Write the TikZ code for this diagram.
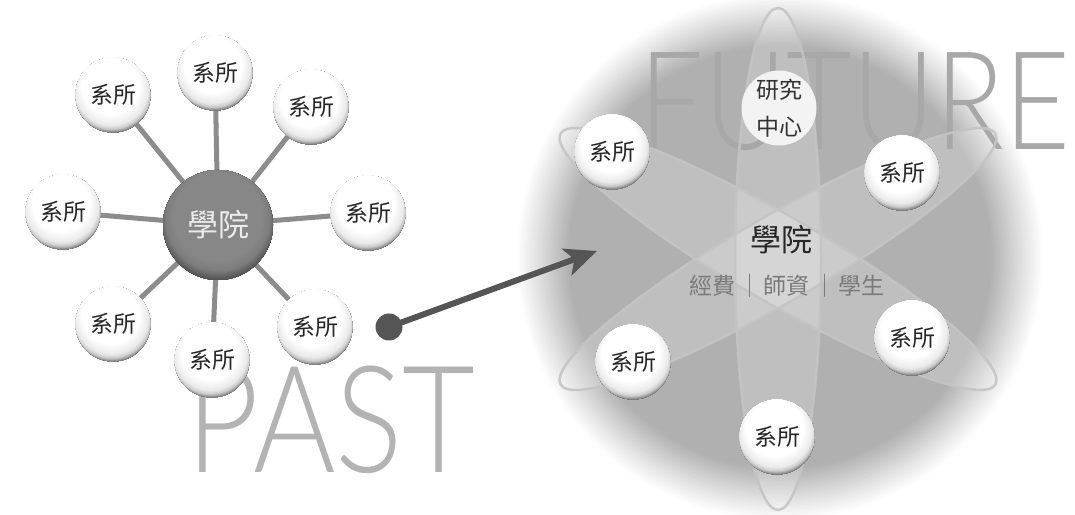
\documentclass[tikz,border=0pt]{standalone}
\usepackage{fontspec}
\setmainfont{Noto Sans CJK TC}
\IfFontExistsTF{Lato Light}{\newfontfamily\thinfont{Lato Light}}{\newfontfamily\thinfont{Lato}}
\usetikzlibrary{arrows.meta}
\pgfdeclarelayer{bg}
\pgfdeclarelayer{mid}
\pgfsetlayers{bg,mid,main}
\definecolor{spokec}{HTML}{8C8C8C}
\definecolor{arrowc}{HTML}{555555}
\definecolor{orbitc}{HTML}{C4C4C4}
\definecolor{pastc}{HTML}{B3B3B3}
\definecolor{futurec}{HTML}{A8A8A8}
\definecolor{subc}{HTML}{7A7A7A}
\definecolor{centerfill}{HTML}{F3F3F3}
% white sphere painting, centre (#1,#2), radius 37.5
\newcommand{\paintwhiteball}[2]{%
  \begin{scope}
    \clip (#1,#2) circle (37.5);
    \foreach \k in {100,99,...,40}{
      \pgfmathsetmacro{\ss}{\k/100}
      \pgfmathsetmacro{\ox}{#1-4*(1-\ss)}
      \pgfmathsetmacro{\oy}{#2+18*(1-\ss)}
      \pgfmathsetmacro{\rr}{56*\ss}
      \pgfmathsetmacro{\gg}{max(0,min(100,\ss<0.52 ? 0 : (\ss<0.66 ? (\ss-0.52)/0.14*8 : (\ss<0.71 ? 8+(\ss-0.66)/0.05*12 : (\ss<0.76 ? 20+(\ss-0.71)/0.05*32 : 52+(\ss-0.76)/0.24*5)))))}
      \fill[black!\gg!white] (\ox,\oy) circle (\rr);
    }
  \end{scope}}
% grey sphere painting, centre (#1,#2), radius 55
\newcommand{\paintgreyball}[2]{%
  \begin{scope}
    \clip (#1,#2) circle (55);
    \foreach \k in {100,99,...,40}{
      \pgfmathsetmacro{\ss}{\k/100}
      \pgfmathsetmacro{\oy}{#2+20*(1-\ss)}
      \pgfmathsetmacro{\rr}{75*\ss}
      \pgfmathsetmacro{\gg}{max(0,min(100,\ss<0.6 ? 47 : (\ss<0.7 ? 47+(\ss-0.6)/0.1*4 : (\ss<0.79 ? 51+(\ss-0.7)/0.09*16 : 67+(\ss-0.79)/0.21*4))))}
      \fill[black!\gg!white] (#1,\oy) circle (\rr);
    }
  \end{scope}}
\newcommand{\wball}[4]{\paintwhiteball{#2}{#3}\node[ball] (#1) at (#2,#3) {#4};}
\tikzset{
  ball/.style={circle, minimum size=75pt, inner sep=0pt,
    font=\fontsize{23}{23}\selectfont, text=black!85},
  hub/.style={circle, minimum size=110pt, inner sep=0pt,
    font=\fontsize{31}{31}\selectfont, text=white!92!black},
  centre/.style={circle, minimum size=75pt, inner sep=0pt, fill=centerfill,
    font=\fontsize{23}{37}\selectfont, text=black!80, align=center},
  spoke/.style={draw=spokec, line width=5pt},
  orbitfill/.style={fill=white, fill opacity=0.2},
  orbitline/.style={draw=orbitc, line width=2.5pt, draw opacity=0.9},
  bigword/.style={inner sep=0pt, anchor=base},
  arrowline/.style={draw=arrowc, line width=6pt, -{Stealth[length=32pt,width=28pt,inset=8pt]}},
  dotstyle/.style={circle, fill=arrowc, minimum size=27pt, inner sep=0pt}
}
\begin{document}
\begin{tikzpicture}[x=1pt,y=1pt]
\useasboundingbox (0,0) rectangle (1075,514);
\clip (0,0) rectangle (1075,514);
\begin{pgfonlayer}{bg}
  \fill[white] (0,0) rectangle (1075,514);
  \coordinate (G) at (780,257);
  \coordinate (O) at (778,255);
  \foreach \k in {106,105,...,1}{
    \pgfmathsetmacro{\tt}{\k/106}
    \pgfmathsetmacro{\gg}{max(0,min(100,\tt<0.8 ? 31 : (\tt<0.93 ? 31-(\tt-0.8)/0.13*21 : 10-(\tt-0.93)/0.07*10)))}
    \fill[black!\gg!white] (G) circle ({2.5*\k});
  }
  \foreach \a in {0,60,-60}
    \path[orbitfill, rotate around={\a:(O)}] (O) ellipse [x radius=43, y radius=251];
  \node[bigword, text=futurec, font=\thinfont\fontsize{137}{137}\selectfont, xscale=0.83] (future) at (855,364) {FUTURE};
  \foreach \a in {0,60,-60}
    \draw[orbitline, rotate around={\a:(O)}] (O) ellipse [x radius=43, y radius=251];
  \node[bigword, text=pastc, font=\thinfont\fontsize{149}{149}\selectfont, xscale=0.845] (past) at (331,42) {PAST};
\end{pgfonlayer}

% left: past structure
\paintgreyball{218}{289}
\node[hub] (C) at (218,289) {學院};
\wball{s1}{215}{441}{系所}
\wball{s2}{113}{419}{系所}
\wball{s3}{311}{407}{系所}
\wball{s4}{63}{302}{系所}
\wball{s5}{368}{301}{系所}
\wball{s6}{113}{190}{系所}
\wball{s7}{212}{154}{系所}
\wball{s8}{315}{187}{系所}
\begin{pgfonlayer}{mid}
  \foreach \n in {s1,s2,s3,s4,s5,s6,s7,s8} \draw[spoke] (C.center) -- (\n.center);
\end{pgfonlayer}

% arrow
\node[dotstyle] (dot) at (389,187) {};
\coordinate (tip) at (597,263);
\draw[arrowline] (dot.center) -- (tip);

% right: future structure
\node[centre] (rc) at (779,406) {研究\\中心};
\wball{r1}{612}{362}{系所}
\wball{r2}{902}{341}{系所}
\wball{r3}{912}{176}{系所}
\wball{r4}{633}{152}{系所}
\wball{r5}{777}{77}{系所}
\node[font=\fontsize{31}{31}\selectfont, text=black!85, inner sep=0pt] (college) at (781,274) {學院};
\node[font=\fontsize{23}{23}\selectfont, text=subc, inner sep=0pt] (res) at (787,228) {經費\hspace{3pt}｜\hspace{3pt}師資\hspace{3pt}｜\hspace{3pt}學生};
\end{tikzpicture}
\end{document}
